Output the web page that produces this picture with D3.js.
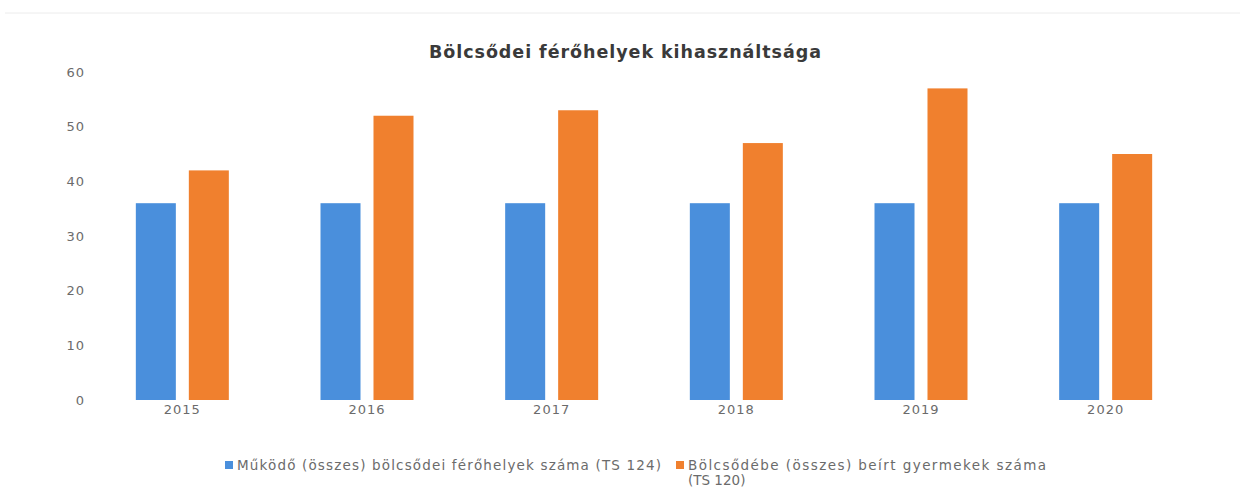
<!DOCTYPE html>
<html>
<head>
<meta charset="UTF-8">
<script src="https://d3js.org/d3.v7.min.js"></script>
<style>
    body { margin: 0; background: #fff; }
    .axis-y text, .axis-x text { font-family: "DejaVu Sans", sans-serif; font-size: 13px; fill: #6b6b6b; letter-spacing: 1px; }
    .legend text { font-family: "DejaVu Sans", sans-serif; font-size: 13.5px; fill: #6b6b6b; }
</style>
</head>
<body>
<svg id="chart" width="1243" height="502"></svg>
<script>
    // data
    const years = ["2015", "2016", "2017", "2018", "2019", "2020"];
    const seriesNames = ["Működő (összes) bölcsődei férőhelyek száma (TS 124)",
                         "Bölcsődébe (összes) beírt gyermekek száma"];
    const places = [36, 36, 36, 36, 36, 36];
    const children = [42, 52, 53, 47, 57, 45];
    const yTicks = [0, 10, 20, 30, 40, 50, 60];
    const colors = ["#4a8fdc", "#f0802e"];

    let svg = d3.select("#chart");

    // faint scanner ruler along the top
    svg.append("line")
        .attr("x1", 5).attr("x2", 1240).attr("y1", 13).attr("y2", 13)
        .attr("stroke", "#ececec");

    let xScale = d3.scaleBand().domain(years).range([90, 1198]);
    let xInner = d3.scaleBand().domain([0, 1]).range([-46.5, 46.5]).paddingInner(0.245);
    let yScale = d3.scaleLinear().domain([0, 60]).range([400, 72]);

    // title
    svg.append("text")
        .attr("x", 625).attr("y", 58)
        .attr("text-anchor", "middle")
        .style("font-family", "DejaVu Sans, sans-serif")
        .style("font-weight", "bold")
        .style("font-size", "17.5px")
        .style("fill", "#3a3a3a")
        .attr("textLength", 392)
        .text("Bölcsődei férőhelyek kihasználtsága");

    // y axis labels only
    let yAxis = svg.append("g")
        .attr("class", "axis-y")
        .attr("transform", "translate(85,0)")
        .call(d3.axisLeft(yScale).tickValues(yTicks).tickSize(0).tickPadding(0));
    yAxis.select(".domain").remove();

    // x axis labels
    let xAxis = svg.append("g")
        .attr("class", "axis-x")
        .attr("transform", "translate(0,400)")
        .call(d3.axisBottom(xScale).tickSize(0).tickPadding(5));
    xAxis.select(".domain").remove();

    // bars
    let series = [places, children];
    series.forEach(function(vals, s) {
        svg.append("g").selectAll("rect")
            .data(years.map((y, i) => ({year: y, value: vals[i]})))
            .join("rect")
            .attr("x", d => xScale(d.year) + xScale.bandwidth() / 2 + xInner(s))
            .attr("y", d => yScale(d.value))
            .attr("width", xInner.bandwidth())
            .attr("height", d => yScale(0) - yScale(d.value))
            .attr("fill", colors[s]);
    });

    // legend
    let legend = svg.append("g").attr("class", "legend");
    let legendX = [225, 676];
    let legendW = [424, 358];
    seriesNames.forEach(function(name, i) {
        legend.append("rect")
            .attr("x", legendX[i]).attr("y", 461)
            .attr("width", 8).attr("height", 8)
            .attr("fill", colors[i]);
        legend.append("text")
            .attr("x", legendX[i] + 12).attr("y", 470)
            .attr("textLength", legendW[i])
            .text(name);
    });
    legend.append("text")
        .attr("x", legendX[1] + 12).attr("y", 485)
        .text("(TS 120)");
</script>
</body>
</html>
